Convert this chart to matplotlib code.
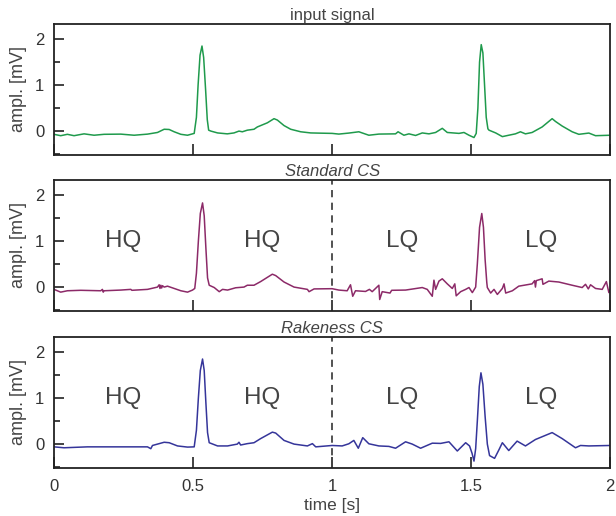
# ECG reconstruction figure: input vs Standard CS vs Rakeness CS
import matplotlib
matplotlib.use("Agg")
import matplotlib.pyplot as plt
from matplotlib.ticker import MultipleLocator

plt.rcParams["font.family"] = ["Liberation Sans", "DejaVu Sans"]

# values (time in s, amplitude in mV)
input_t = [0.000, 0.024, 0.048, 0.072, 0.108, 0.144, 0.180, 0.240, 0.288, 0.336,
           0.372, 0.396, 0.414, 0.432, 0.456, 0.480, 0.492, 0.504, 0.512, 0.518,
           0.525, 0.532, 0.538, 0.545, 0.551, 0.556, 0.564, 0.588, 0.623, 0.647,
           0.665, 0.677, 0.695, 0.719, 0.731, 0.767, 0.791, 0.803, 0.827, 0.851,
           0.887, 0.923, 0.959, 1.000, 1.024, 1.060, 1.096, 1.132, 1.168, 1.228,
           1.237, 1.258, 1.276, 1.300, 1.324, 1.348, 1.372, 1.396, 1.414, 1.456,
           1.474, 1.492, 1.510, 1.518, 1.524, 1.530, 1.536, 1.542, 1.548, 1.554,
           1.560, 1.564, 1.588, 1.612, 1.635, 1.659, 1.677, 1.695, 1.719, 1.755,
           1.791, 1.803, 1.827, 1.863, 1.887, 1.923, 1.947, 2.000]
input_v = [-0.07, -0.10, -0.07, -0.10, -0.06, -0.09, -0.07, -0.066, -0.09, -0.066,
           -0.03, 0.04, 0.035, -0.015, -0.07, -0.09, -0.07, -0.05, 0.30, 1.00,
           1.65, 1.85, 1.60, 0.90, 0.25, 0.02, 0.00, -0.04, -0.06, -0.04,
           0.00, -0.015, 0.02, 0.04, 0.09, 0.18, 0.27, 0.24, 0.12, 0.04,
           -0.015, -0.04, -0.045, -0.05, -0.065, -0.043, -0.015, -0.09, -0.065, -0.06,
           -0.015, -0.09, -0.06, -0.095, -0.04, -0.06, -0.03, 0.06, -0.03, -0.05,
           -0.03, -0.09, -0.14, -0.05, 0.50, 1.50, 1.88, 1.70, 1.00, 0.30,
           0.05, 0.02, -0.04, -0.12, -0.09, -0.06, -0.015, -0.06, -0.03, 0.09,
           0.27, 0.21, 0.11, -0.015, -0.07, -0.043, -0.10, -0.09]

std_t = [0.000, 0.024, 0.048, 0.096, 0.168, 0.174, 0.177, 0.180, 0.240, 0.276,
         0.280, 0.336, 0.372, 0.378, 0.381, 0.384, 0.387, 0.390, 0.396, 0.408,
         0.432, 0.456, 0.480, 0.498, 0.506, 0.512, 0.519, 0.526, 0.534, 0.540,
         0.546, 0.552, 0.558, 0.576, 0.594, 0.606, 0.624, 0.653, 0.683, 0.695,
         0.719, 0.743, 0.785, 0.797, 0.827, 0.863, 0.911, 0.917, 0.935, 1.000,
         1.024, 1.054, 1.066, 1.074, 1.084, 1.120, 1.134, 1.144, 1.168, 1.171,
         1.180, 1.208, 1.214, 1.264, 1.324, 1.342, 1.360, 1.366, 1.372, 1.384,
         1.396, 1.414, 1.432, 1.441, 1.446, 1.462, 1.480, 1.492, 1.504, 1.516,
         1.522, 1.530, 1.538, 1.544, 1.550, 1.556, 1.558, 1.570, 1.582, 1.594,
         1.612, 1.618, 1.624, 1.648, 1.671, 1.719, 1.728, 1.731, 1.734, 1.755,
         1.758, 1.779, 1.815, 1.863, 1.899, 1.911, 1.921, 1.929, 1.947, 1.971,
         1.986, 1.995, 2.000]
std_v = [-0.05, -0.11, -0.08, -0.07, -0.08, -0.05, -0.11, -0.08, -0.065, -0.05,
         -0.07, -0.05, 0.00, 0.05, -0.03, 0.04, -0.02, 0.03, 0.00, 0.02,
         -0.03, -0.08, -0.11, -0.065, -0.03, 0.30, 1.00, 1.60, 1.83, 1.55,
         0.85, 0.20, 0.04, -0.01, -0.10, -0.05, -0.065, -0.015, 0.00, 0.04,
         0.04, 0.12, 0.28, 0.25, 0.11, 0.00, -0.05, -0.10, -0.04, -0.035,
         -0.065, -0.08, 0.05, -0.20, -0.08, -0.095, -0.05, -0.10, 0.04, -0.27,
         -0.10, -0.13, -0.07, -0.065, -0.01, -0.05, -0.20, 0.15, -0.05, 0.13,
         0.18, 0.07, -0.03, 0.07, -0.19, -0.10, -0.05, -0.01, -0.12, 0.00,
         0.50, 1.30, 1.60, 1.30, 0.60, 0.10, -0.01, -0.13, -0.05, -0.16,
         -0.03, 0.07, -0.13, -0.08, 0.02, 0.07, 0.14, 0.00, 0.14, 0.18,
         0.06, 0.13, 0.11, 0.04, -0.01, 0.06, -0.04, 0.05, -0.03, -0.05,
         0.12, -0.12, -0.05]

rak_t = [0.000, 0.036, 0.120, 0.240, 0.336, 0.348, 0.354, 0.372, 0.396, 0.414,
         0.444, 0.480, 0.504, 0.512, 0.519, 0.526, 0.534, 0.540, 0.546, 0.552,
         0.558, 0.588, 0.624, 0.659, 0.665, 0.671, 0.695, 0.719, 0.743, 0.785,
         0.797, 0.827, 0.863, 0.911, 0.929, 0.941, 1.000, 1.036, 1.060, 1.078,
         1.094, 1.110, 1.132, 1.168, 1.204, 1.228, 1.264, 1.288, 1.318, 1.360,
         1.390, 1.420, 1.450, 1.480, 1.494, 1.503, 1.510, 1.516, 1.522, 1.529,
         1.535, 1.542, 1.550, 1.558, 1.566, 1.584, 1.600, 1.612, 1.635, 1.665,
         1.695, 1.731, 1.791, 1.827, 1.875, 1.893, 1.923, 2.000]
rak_v = [-0.06, -0.08, -0.06, -0.06, -0.06, -0.10, -0.03, 0.00, 0.04, 0.03,
         -0.04, -0.065, -0.06, 0.30, 1.00, 1.60, 1.85, 1.60, 0.90, 0.25,
         0.03, -0.04, -0.04, 0.00, 0.04, -0.02, 0.01, 0.03, 0.12, 0.26,
         0.24, 0.08, 0.00, -0.04, 0.01, -0.06, -0.03, -0.04, 0.007, 0.08,
         -0.09, 0.14, 0.007, -0.04, -0.05, -0.09, 0.05, 0.00, -0.09, 0.02,
         0.015, 0.05, -0.15, 0.03, -0.04, -0.20, -0.37, -0.10, 0.50, 1.25,
         1.55, 1.30, 0.60, 0.00, -0.25, -0.31, -0.12, 0.03, -0.14, 0.065,
         -0.04, 0.10, 0.25, 0.12, -0.08, -0.03, -0.04, -0.03]

titles = ["input signal", "Standard CS", "Rakeness CS"]
title_styles = ["normal", "italic", "italic"]
colors = ["#1f9a4c", "#8c2a68", "#35359a"]
quality_x = [0.25, 0.75, 1.25, 1.75]
quality_labels = ["HQ", "HQ", "LQ", "LQ"]

series = [(input_t, input_v), (std_t, std_v), (rak_t, rak_v)]
bottoms = [0.6996, 0.3973, 0.0930]

fig = plt.figure(figsize=(6.16, 5.16), dpi=100)
text_col = "#444444"

for i, (t, v) in enumerate(series):
    ax = fig.add_axes([0.0877, bottoms[i], 0.903, 0.254])
    ax.plot(t, v, color=colors[i], lw=1.1)
    ax.set_xlim(0, 2)
    ax.set_ylim(-0.52, 2.33)
    ax.set_title(titles[i], fontsize=12, style=title_styles[i], color=text_col, pad=3)
    ax.set_ylabel("ampl. [mV]", fontsize=13, color=text_col, labelpad=6)

    ax.set_yticks([0, 1, 2])
    ax.set_yticklabels(["0", "1", "2"])
    ax.yaxis.set_minor_locator(MultipleLocator(0.5))
    ax.set_xticks([0, 0.5, 1, 1.5, 2])
    ax.tick_params(which="both", direction="in", top=False, right=False,
                   color="#222222", labelsize=12, labelcolor="#333333", width=1.2)
    ax.tick_params(which="major", length=7)
    ax.tick_params(which="minor", length=4)
    ax.tick_params(axis="y", which="major", pad=7)
    ax.tick_params(axis="x", which="major", length=8, pad=8)
    for sp in ax.spines.values():
        sp.set_linewidth(1.3)
        sp.set_color("#222222")

    if i < 2:
        ax.set_xticklabels([])
    else:
        ax.set_xticklabels(["0", "0.5", "1", "1.5", "2"])
        ax.set_xlabel("time [s]", fontsize=12.5, color=text_col, labelpad=3)

    if i > 0:
        ax.axvline(1.0, color="#444444", ls=(0, (4, 3)), lw=1.3)
        for qx, ql in zip(quality_x, quality_labels):
            ax.text(qx, 1.0, ql, ha="center", va="center", fontsize=17.5, color=text_col)

fig.savefig("out.png", dpi=100)
